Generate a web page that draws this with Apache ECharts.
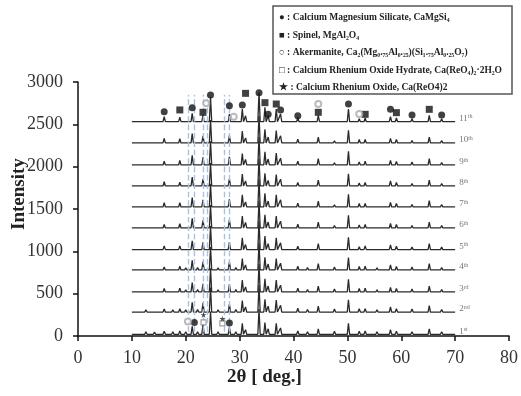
<!DOCTYPE html>
<html><head><meta charset="utf-8">
<script src="https://cdn.jsdelivr.net/npm/echarts@6/dist/echarts.min.js"></script>
<style>html,body{margin:0;padding:0;background:#fff}#c{width:521px;height:396px}</style>
</head><body><div id="c"></div>
<script>
// 2θ positions of the peaks (deg)
const peakPos = [12.6,14.2,16.0,17.6,18.9,20.0,21.2,22.2,23.2,24.6,26.0,28.1,29.3,30.5,31.1,33.6,34.7,35.3,36.8,37.6,40.8,42.6,44.6,47.6,50.2,52.2,53.3,55.5,58.0,59.1,62.0,65.2,67.5];
// peak heights above each pattern's baseline, patterns 1st..11th
const h1  = [30,25,35,30,40,30,95,30,120,270,30,85,30,130,55,300,140,65,130,75,40,30,65,35,130,35,40,30,55,35,30,65,30];
const h2  = [25,20,35,25,40,25,115,30,110,290,25,95,30,135,60,320,150,70,140,80,45,30,70,35,145,40,40,25,60,40,35,75,30];
const h3  = [20,20,40,20,45,25,110,30,95,280,25,90,30,140,60,330,155,70,140,80,45,30,70,35,150,40,45,25,55,40,35,70,30];
const h4  = [20,20,35,20,45,25,115,30,100,270,25,95,30,135,60,320,150,70,135,80,45,30,75,35,145,40,45,25,60,40,35,75,30];
const h5  = [0,0,45,0,45,0,105,0,85,280,0,90,0,140,60,340,160,70,140,80,40,15,70,20,145,35,45,15,55,40,30,70,30];
const h6  = [10,10,40,10,50,0,115,0,90,270,10,95,0,140,65,320,155,70,140,80,45,20,70,30,150,35,40,20,55,40,30,70,30];
const h7  = [0,0,50,0,50,0,110,0,85,275,0,90,0,145,60,330,160,70,145,85,45,20,70,25,150,40,40,20,55,40,30,75,30];
const h8  = [0,0,50,0,45,0,105,0,80,270,0,85,0,140,60,320,150,65,135,80,40,15,70,20,145,35,40,15,60,40,30,70,30];
const h9  = [10,0,45,0,55,0,115,0,90,280,0,95,0,135,65,330,155,70,140,80,45,20,75,25,160,35,45,20,55,40,35,75,30];
const h10 = [0,0,55,0,50,0,110,0,85,270,0,90,0,140,60,320,160,70,145,85,45,15,70,25,150,40,40,15,55,40,30,70,30];
const h11 = [0,0,60,0,55,0,100,0,80,290,0,90,0,150,70,345,170,75,150,90,50,15,75,20,150,35,45,15,60,45,35,75,35];
const baselines = [20,283,520,780,1020,1276,1524,1772,2020,2280,2531];
const patternNames = ['1','2','3','4','5','6','7','8','9','10','11'];
const patternSuffix = ['st','nd','rd','th','th','th','th','th','th','th','th'];
const scanStart = 10, scanEnd = 70;

// phase markers
const silicateX = [16.0,21.2,24.6,28.1,30.5,33.6,35.3,37.6,40.8,50.2,58.0,62.0,67.5,21.6,28.1];
const silicateY = [2650,2697,2846,2720,2728,2874,2618,2670,2602,2740,2677,2610,2610,160,155];
const spinelX = [18.9,23.2,31.1,34.7,36.8,44.6,53.3,59.1,65.2];
const spinelY = [2670,2642,2866,2756,2740,2642,2618,2638,2677];
const akermaniteX = [23.8,28.9,44.6,52.2,20.4];
const akermaniteY = [2750,2590,2740,2622,170];
const hydrateX = [23.3,26.8];
const hydrateY = [160,150];
const oxideX = [23.3,26.8];
const oxideY = [250,205];

// dashed guide lines
const guideX = [20.5,21.6,23.2,24.0,27.2,28.1];
const guideBottom = 50, guideTop = 2850;

const xTicks = {min:0,max:80,interval:10};
const yTicks = {min:0,max:3000,interval:500};

const legendRows = [
  '\u25CF : Calcium Magnesium Silicate, CaMgSi\u2084',
  '\u25A0 : Spinel, MgAl\u2082O\u2084',
  '\u25CB : Akermanite, Ca\u2082(Mg\u2080.\u2087\u2085Al\u2080.\u2082\u2085)(Si\u2081.\u2087\u2085Al\u2080.\u2082\u2085O\u2087)',
  '\u25A1 : Calcium Rhenium Oxide Hydrate, Ca(ReO\u2084)\u2082\u00B72H\u2082O',
  '\u2605 : Calcium Rhenium Oxide, Ca(ReO4)2'
];

const heights = [h1,h2,h3,h4,h5,h6,h7,h8,h9,h10,h11];
const serif = '"Liberation Serif","DejaVu Serif",serif';

function pattern(i){
  const b = baselines[i], h = heights[i];
  const d = [[scanStart,b]];
  peakPos.forEach((p,k)=>{
    if(h[k]>0){ d.push([p-0.22,b]); d.push([p,b+h[k]]); d.push([p+0.22,b]); }
  });
  d.push([scanEnd,b]);
  return d;
}
const zip = (xs,ys)=>xs.map((x,i)=>[x,ys[i]]);
const starPath = 'path://M50,0 L61,35 L98,35 L68,57 L79,91 L50,70 L21,91 L32,57 L2,35 L39,35 Z';

const series = [];
heights.forEach((h,i)=>{
  const s = {
    type:'line', data:pattern(i), symbol:'none', silent:true,
    lineStyle:{color:'#2a2a2a',width:1.3},
    endLabel:{show:true,distance:4,offset:[0,-3],
      formatter:()=>'{n|'+patternNames[i]+'}{s|'+patternSuffix[i]+'}',
      rich:{n:{fontSize:9,color:'#777',fontFamily:serif},s:{fontSize:6,color:'#777',fontFamily:serif,padding:[0,0,4,0]}}}
  };
  if(i===0){
    s.markLine = {symbol:'none',silent:true,label:{show:false},
      lineStyle:{color:'#a9c1e2',type:'dashed',width:1.4},
      data:guideX.map(x=>[{coord:[x,guideBottom]},{coord:[x,guideTop]}])};
  }
  series.push(s);
});
series.push({type:'scatter',data:zip(silicateX,silicateY),symbol:'circle',symbolSize:7,itemStyle:{color:'#111'},z:5});
series.push({type:'scatter',data:zip(spinelX,spinelY),symbol:'rect',symbolSize:7,itemStyle:{color:'#111'},z:5});
series.push({type:'scatter',data:zip(akermaniteX,akermaniteY),symbol:'emptyCircle',symbolSize:6,itemStyle:{color:'#aaa',borderColor:'#999',borderWidth:1.2},z:5});
series.push({type:'scatter',data:zip(hydrateX,hydrateY),symbol:'rect',symbolSize:5,itemStyle:{color:'#fff',borderColor:'#888',borderWidth:1.2},z:5});
series.push({type:'scatter',data:zip(oxideX,oxideY),symbol:starPath,symbolSize:6,itemStyle:{color:'#222'},z:5});

const axisCommon = {
  axisLine:{show:true,lineStyle:{color:'#111',width:1.5}},
  axisTick:{show:true,inside:false,length:5,lineStyle:{color:'#111',width:1.5}},
  splitLine:{show:false},
  axisLabel:{color:'#333',fontSize:18,fontFamily:serif,formatter:v=>String(v)}
};

const chart = echarts.init(document.getElementById('c'),null,{renderer:'canvas'});
chart.setOption({
  animation:false,
  backgroundColor:'#fff',
  grid:{left:78,right:8,top:82,bottom:60,containLabel:false},
  xAxis:Object.assign({type:'value',min:xTicks.min,max:xTicks.max,interval:xTicks.interval},axisCommon,
    {axisLabel:Object.assign({},axisCommon.axisLabel,{margin:13})}),
  yAxis:Object.assign({type:'value',min:yTicks.min,max:yTicks.max,interval:yTicks.interval},axisCommon,
    {axisLabel:Object.assign({},axisCommon.axisLabel,{margin:15})}),
  series:series,
  graphic:[
    {type:'text',rotation:Math.PI/2,style:{text:'Intensity',fontSize:19,fontWeight:'bold',fontFamily:serif,fill:'#222'},
      x:10,y:230},
    {type:'text',x:227,y:368,style:{text:'2\u03B8 [ deg.]',fontSize:19,fontWeight:'bold',fontFamily:serif,fill:'#222'}},
    {type:'rect',shape:{x:273,y:6,width:239,height:88},style:{fill:'#fff',stroke:'#555',lineWidth:1.5},z:10},
    ...legendRows.map((t,i)=>({type:'text',x:279,y:13+i*17.4,z:11,
      style:{text:t,fontSize:9.5,fontWeight:'bold',fontFamily:serif,fill:'#222'}}))
  ]
});
</script></body></html>
